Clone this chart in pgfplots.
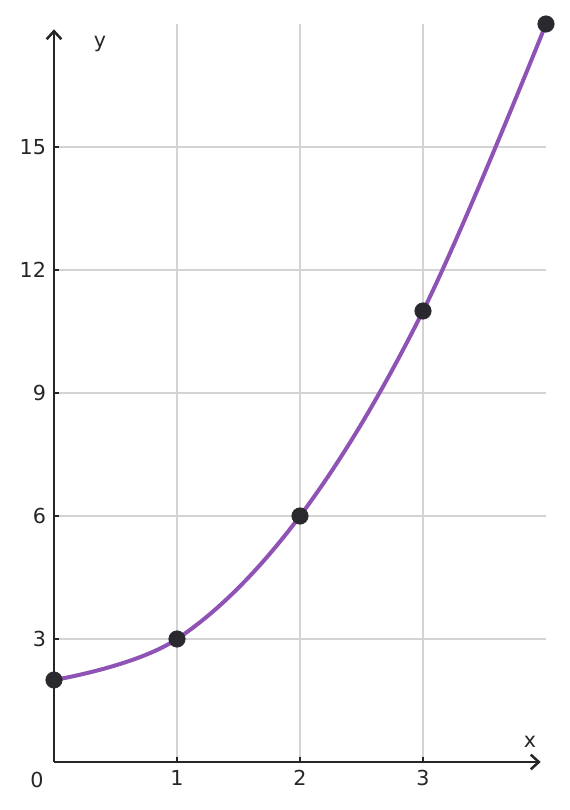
\documentclass[border=0pt]{standalone}
\usepackage{pgfplots}
\pgfplotsset{compat=1.18}
\usepackage{fontspec}
\setmainfont{DejaVu Sans}
\usetikzlibrary{arrows.meta}
\definecolor{curve}{HTML}{8E53B4}
\definecolor{dots}{HTML}{2A2A2E}
\definecolor{axiscol}{HTML}{262626}
\definecolor{gridcol}{HTML}{D3D3D3}
\begin{document}
\begin{tikzpicture}
\begin{axis}[
    at={(0,0)}, anchor=south west,
    scale only axis,
    width=369pt, height=553.5pt,
    xmin=0, xmax=4, ymin=0, ymax=18,
    axis lines=left,
    axis line style={axiscol, line width=1.9pt, -{Straight Barb[length=6pt,width=11pt,line width=1.9pt]}, shorten >=4pt},
    xtick={1,2,3}, ytick={3,6,9,12,15},
    tick align=inside,
    major tick length=3.5pt,
    tick style={axiscol, line width=1.5pt},
    grid=major,
    major grid style={gridcol, line width=1.1pt},
    ticklabel style={font=\fontsize{15.5}{17}\selectfont, text=axiscol},
    /pgf/number format/assume math mode=true,
    xticklabel style={yshift=-2.5pt},
    yticklabel style={xshift=-2.5pt},
    clip=false,
]
\addplot[curve, line width=3pt, smooth, tension=0.6] coordinates {
 (0,2) (1,3) (2,6) (3,11) (4,18)
};
\addplot[only marks, mark=*, mark size=6.2pt, mark options={fill=dots, draw=dots}] coordinates {
 (0,2) (1,3) (2,6) (3,11) (4,18)
};
\node[font=\fontsize{15.5}{17}\selectfont, text=axiscol] at (axis cs:3.87,0.5) {x};
\node[font=\fontsize{15.5}{17}\selectfont, text=axiscol] at (axis cs:0.374,17.52) {y};
\node[font=\fontsize{15.5}{17}\selectfont, text=axiscol] at (axis cs:-0.138,-0.44) {0};
\end{axis}
\pgfresetboundingbox
\useasboundingbox (-40.5pt,-36pt) rectangle (387pt,571.5pt);
\end{tikzpicture}
\end{document}
